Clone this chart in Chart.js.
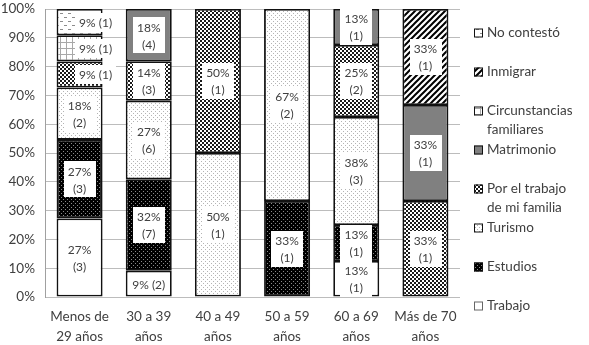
<!DOCTYPE html>
<html>
<head>
<meta charset="utf-8">
<script src="https://cdn.jsdelivr.net/npm/chart.js@4.4.0/dist/chart.umd.min.js"></script>
<style>
  html, body { margin: 0; padding: 0; background: #fff; }
  #grafico { display: block; }
</style>
</head>
<body>
<canvas id="grafico" width="589" height="345"></canvas>
<script>
// categorías del eje X (dos líneas cada una)
const categorias = [
  ['Menos de', '29 años'],
  ['30 a 39', 'años'],
  ['40 a 49', 'años'],
  ['50 a 59', 'años'],
  ['60 a 69', 'años'],
  ['Más de 70', 'años']
];

// nombres de las series (de abajo hacia arriba), con los saltos de línea de la leyenda
const nombres = [
  ['Trabajo'],
  ['Estudios'],
  ['Turismo'],
  ['Por el trabajo', 'de mi familia'],
  ['Matrimonio'],
  ['Circunstancias', 'familiares'],
  ['Inmigrar'],
  ['No contestó']
];

// porcentajes
const trabajo        = [27.27,  9.09,  0,     0,     12.5,  0];
const estudios       = [27.27, 31.82,  0,    33.33,  12.5,  0];
const turismo        = [18.18, 27.27, 50,    66.67,  37.5,  0];
const porTrabajoFam  = [ 9.09, 13.64, 50,     0,     25,   33.33];
const matrimonio     = [ 0,    18.18,  0,     0,     12.5, 33.33];
const circunstancias = [ 9.09,  0,     0,     0,      0,    0];
const inmigrar       = [ 0,     0,     0,     0,      0,   33.34];
const noContesto     = [ 9.09,  0,     0,     0,      0,    0];

// número de personas (entre paréntesis en las etiquetas)
const nTrabajo        = [3, 2, 0, 0, 1, 0];
const nEstudios       = [3, 7, 0, 1, 1, 0];
const nTurismo        = [2, 6, 1, 2, 3, 0];
const nPorTrabajoFam  = [1, 3, 1, 0, 2, 1];
const nMatrimonio     = [0, 4, 0, 0, 1, 1];
const nCircunstancias = [1, 0, 0, 0, 0, 0];
const nInmigrar       = [0, 0, 0, 0, 0, 1];
const nNoContesto     = [1, 0, 0, 0, 0, 0];

// marcas del eje Y
const marcasY = [0, 10, 20, 30, 40, 50, 60, 70, 80, 90, 100];

const valores = [trabajo, estudios, turismo, porTrabajoFam, matrimonio, circunstancias, inmigrar, noContesto];
const cuentas = [nTrabajo, nEstudios, nTurismo, nPorTrabajoFam, nMatrimonio, nCircunstancias, nInmigrar, nNoContesto];

const lienzo = document.getElementById('grafico');
const ctx = lienzo.getContext('2d');
const fuente = 'Lato, "DejaVu Sans", sans-serif';
const colorTexto = '#404040';

// crea una trama a partir de una pequeña baldosa
function trama(tam, dibujar) {
  const c = document.createElement('canvas');
  c.width = tam; c.height = tam;
  const g = c.getContext('2d');
  dibujar(g, tam);
  return ctx.createPattern(c, 'repeat');
}

const rellenos = [
  '#ffffff',                                    // Trabajo
  trama(4, g => {                               // Estudios: negro con puntos grises
    g.fillStyle = '#000'; g.fillRect(0, 0, 4, 4);
    g.fillStyle = '#8a8a8a'; g.fillRect(1, 1, 1, 1); g.fillRect(3, 3, 1, 1);
  }),
  trama(4, g => {                               // Turismo: blanco con puntos grises
    g.fillStyle = '#fff'; g.fillRect(0, 0, 4, 4);
    g.fillStyle = '#b4b4b4'; g.fillRect(1, 1, 1, 1); g.fillRect(3, 3, 1, 1);
  }),
  trama(4, g => {                               // Por el trabajo de mi familia: damero
    g.fillStyle = '#fff'; g.fillRect(0, 0, 4, 4);
    g.fillStyle = '#1a1a1a'; g.fillRect(0, 0, 2, 2); g.fillRect(2, 2, 2, 2);
  }),
  '#808080',                                    // Matrimonio
  trama(6, g => {                               // Circunstancias familiares: cuadrícula
    g.fillStyle = '#fff'; g.fillRect(0, 0, 6, 6);
    g.fillStyle = '#a8a8a8'; g.fillRect(0, 0, 6, 1); g.fillRect(0, 0, 1, 6);
  }),
  trama(6, g => {                               // Inmigrar: rayas diagonales
    g.fillStyle = '#fff'; g.fillRect(0, 0, 6, 6);
    g.strokeStyle = '#000'; g.lineWidth = 2;
    g.beginPath();
    g.moveTo(0, 6); g.lineTo(6, 0);
    g.moveTo(-1, 1); g.lineTo(1, -1);
    g.moveTo(5, 7); g.lineTo(7, 5);
    g.stroke();
  }),
  trama(8, g => {                               // No contestó: guiones
    g.fillStyle = '#fff'; g.fillRect(0, 0, 8, 8);
    g.fillStyle = '#8c8c8c'; g.fillRect(0, 1, 3, 1); g.fillRect(4, 5, 3, 1);
  })
];

const datasets = valores.map((v, i) => ({
  label: nombres[i].join(' '),
  data: v,
  cuentas: cuentas[i],
  backgroundColor: rellenos[i],
  borderColor: '#111',
  borderWidth: 1.8,
  borderSkipped: false,
  barPercentage: 0.665,
  categoryPercentage: 1
}));

// etiquetas blancas dentro de cada segmento
const etiquetas = {
  id: 'etiquetas',
  afterDatasetsDraw(chart) {
    const c = chart.ctx;
    c.save();
    c.font = '12px ' + fuente;
    c.textAlign = 'center';
    c.textBaseline = 'middle';
    chart.data.datasets.forEach((ds, i) => {
      chart.getDatasetMeta(i).data.forEach((barra, j) => {
        const v = ds.data[j];
        if (!v) return;
        const pct = Math.round(v) + '%';
        const n = '(' + ds.cuentas[j] + ')';
        const lineas = v < 10 ? [pct + ' ' + n] : [pct, n];
        const alto = 17;
        const ancho = Math.max(...lineas.map(t => c.measureText(t).width)) + 8;
        const h = lineas.length * alto + 2;
        // en la primera columna las etiquetas de una línea se desbordan hacia la derecha
        const x = barra.x + (lineas.length === 1 && j === 0 ? 16 : 0);
        const y = barra.y + (barra.base - barra.y) / 2;
        c.fillStyle = '#fff';
        c.fillRect(Math.round(x - ancho / 2), Math.round(y - h / 2), Math.round(ancho), Math.round(h));
        c.fillStyle = colorTexto;
        lineas.forEach((t, k) => {
          c.fillText(t, x, y + (k - (lineas.length - 1) / 2) * alto + 1);
        });
      });
    });
    c.restore();
  }
};

// leyenda a la derecha, en orden inverso
const leyenda = {
  id: 'leyenda',
  afterDraw(chart) {
    const c = chart.ctx;
    c.save();
    c.font = '13.5px ' + fuente;
    c.textBaseline = 'middle';
    c.textAlign = 'left';
    for (let k = 0; k < nombres.length; k++) {
      const i = nombres.length - 1 - k;
      const y = 33 + k * 39;
      c.fillStyle = rellenos[i];
      c.fillRect(474, y - 4.5, 9, 9);
      c.strokeStyle = i === 0 ? '#666' : '#111';
      c.lineWidth = 1;
      c.strokeRect(474.5, y - 4, 8, 8);
      c.fillStyle = colorTexto;
      nombres[i].forEach((t, l) => c.fillText(t, 487, y + l * 19));
    }
    c.restore();
  }
};

new Chart(lienzo, {
  type: 'bar',
  data: { labels: categorias, datasets: datasets },
  options: {
    responsive: false,
    animation: false,
    layout: { padding: { top: 0, right: 129, left: 0, bottom: 0 } },
    plugins: { legend: { display: false }, tooltip: { enabled: false } },
    scales: {
      x: {
        stacked: true,
        grid: { display: false },
        border: { display: false },
        ticks: { color: colorTexto, font: { family: fuente, size: 13.5, lineHeight: 1.45 }, padding: 2, maxRotation: 0, autoSkip: false },
        afterFit: s => { s.height = 48; }
      },
      y: {
        stacked: true,
        min: 0,
        max: 100,
        afterBuildTicks: s => { s.ticks = marcasY.map(v => ({ value: v })); },
        ticks: { color: colorTexto, font: { family: fuente, size: 13.5 }, padding: 10, callback: v => v + '%' },
        grid: { color: '#bcbcbc', drawTicks: false },
        border: { color: '#a0a0a0' },
        afterFit: s => { s.width = 45; s.paddingTop = 9; s.paddingBottom = 0; }
      }
    }
  },
  plugins: [etiquetas, leyenda]
});
</script>
</body>
</html>
